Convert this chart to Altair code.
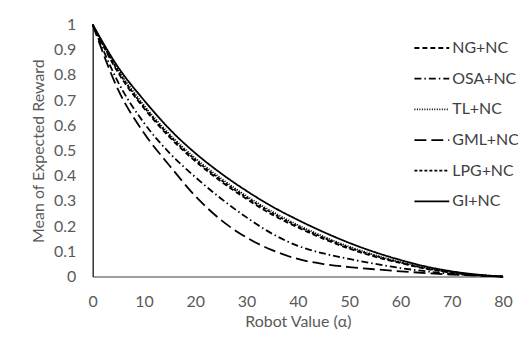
import altair as alt
import pandas as pd

robot_value = [0, 5, 10, 15, 20, 25, 30, 35, 40, 45, 50, 55, 60, 65, 70, 75, 80]

ng_nc  = [1.0, 0.808, 0.668, 0.553, 0.458, 0.378, 0.308, 0.246, 0.195, 0.150, 0.111, 0.079, 0.054, 0.031, 0.016, 0.006, 0.0]
osa_nc = [1.0, 0.770, 0.610, 0.490, 0.395, 0.310, 0.235, 0.170, 0.122, 0.092, 0.070, 0.051, 0.034, 0.021, 0.011, 0.005, 0.0]
tl_nc  = [1.0, 0.820, 0.680, 0.565, 0.470, 0.390, 0.320, 0.258, 0.205, 0.159, 0.119, 0.086, 0.058, 0.035, 0.018, 0.007, 0.0]
gml_nc = [1.0, 0.740, 0.570, 0.440, 0.320, 0.225, 0.155, 0.105, 0.070, 0.050, 0.038, 0.029, 0.021, 0.014, 0.008, 0.004, 0.0]
lpg_nc = [1.0, 0.814, 0.674, 0.559, 0.464, 0.384, 0.314, 0.252, 0.200, 0.155, 0.115, 0.083, 0.056, 0.033, 0.017, 0.006, 0.0]
gi_nc  = [1.0, 0.830, 0.700, 0.585, 0.490, 0.410, 0.340, 0.278, 0.225, 0.177, 0.134, 0.097, 0.066, 0.040, 0.021, 0.008, 0.0]

series_names = ["NG+NC", "OSA+NC", "TL+NC", "GML+NC", "LPG+NC", "GI+NC"]
series_values = [ng_nc, osa_nc, tl_nc, gml_nc, lpg_nc, gi_nc]
dash_styles = [[5, 3], [7, 3, 1.5, 3], [1, 1.5], [12, 5], [3, 2], [1, 0]]

rows = []
for name, vals in zip(series_names, series_values):
    for xv, yv in zip(robot_value, vals):
        rows.append({"x": xv, "y": yv, "series": name})
df = pd.DataFrame(rows)

FONT = "Lato"

chart = alt.Chart(df).mark_line(color="black", strokeWidth=1.8, interpolate="monotone").encode(
    x=alt.X("x:Q", title="Robot Value (α)",
            scale=alt.Scale(domain=[0, 80], nice=False),
            axis=alt.Axis(values=list(range(0, 81, 10)), grid=False, ticks=False, labelFlush=False,
                          domainColor="#7f7f7f", domainWidth=1.5,
                          labelPadding=17, titlePadding=4)),
    y=alt.Y("y:Q", title="Mean of Expected Reward",
            scale=alt.Scale(domain=[0, 1], nice=False),
            axis=alt.Axis(values=[i / 10 for i in range(11)], format=".1~f", grid=False, ticks=False,
                          labelFlush=False, domainColor="black", domainWidth=1.2,
                          labelPadding=17, titlePadding=7)),
    strokeDash=alt.StrokeDash("series:N", title=None,
                              scale=alt.Scale(domain=series_names, range=dash_styles),
                              legend=alt.Legend(orient="none", legendX=322, legendY=5,
                                                symbolType="stroke", symbolSize=1225,
                                                symbolStrokeColor="black", symbolStrokeWidth=1.8,
                                                labelFontSize=16, labelFont=FONT, labelColor="#404040",
                                                labelOffset=2, rowPadding=3.8)),
    detail="series:N",
).properties(
    width=412, height=253,
    autosize=alt.AutoSizeParams(type="none"),
    padding={"left": 85, "top": 16, "right": 15, "bottom": 70},
).configure_view(
    stroke=None
).configure_axis(
    labelFont=FONT, titleFont=FONT, labelFontSize=16, titleFontSize=16,
    labelColor="#595959", titleColor="#595959", titleFontWeight="normal"
)

chart.save("out.html", embed_options={"renderer": "svg", "actions": False})
